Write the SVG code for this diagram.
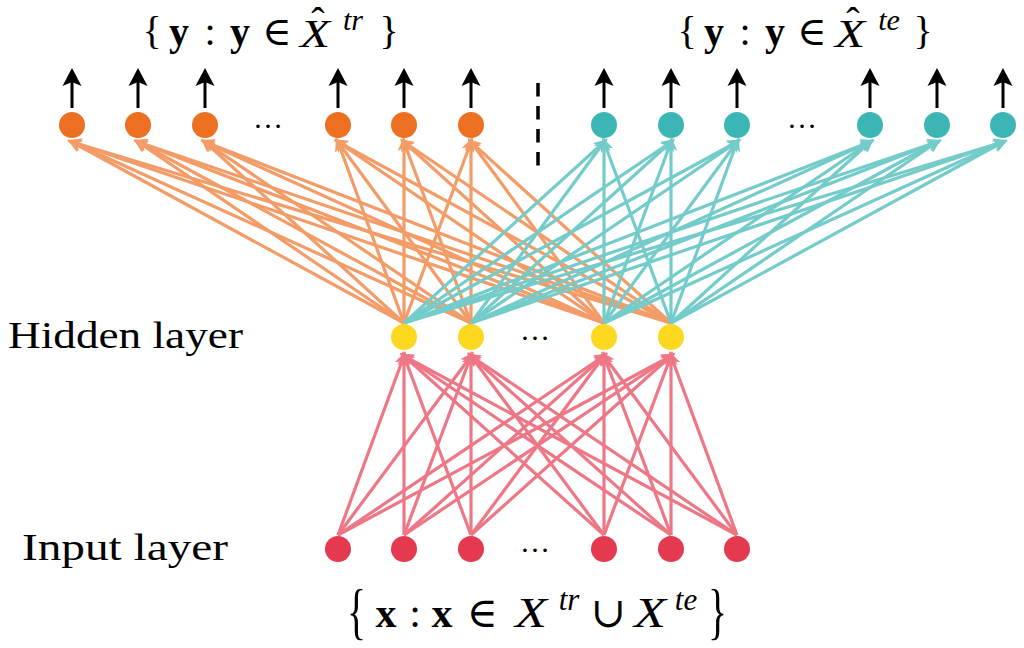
<svg xmlns="http://www.w3.org/2000/svg" width="1024" height="648" viewBox="0 0 1024 648">
<style>
.eo{stroke:#F39C67;stroke-width:3.2;marker-end:url(#ao)}
.et{stroke:#74CCCA;stroke-width:3.2;marker-end:url(#at)}
.er{stroke:#EE7786;stroke-width:3.2;marker-end:url(#ar)}
.eb{stroke:#000;stroke-width:3;marker-end:url(#ab)}
.no{fill:#EC6F22}
.nt{fill:#3BB6B4}
.nh{fill:#FCD920}
.ni{fill:#E5394F}
text{font-family:"Liberation Serif","DejaVu Serif",serif;fill:#000}
.lbl{font-size:37px}
.m{font-size:40px;text-anchor:middle}
.mb{font-size:40px;text-anchor:middle;font-weight:bold}
.mi{font-size:40px;text-anchor:middle;font-style:italic}
.ms{font-size:30px;text-anchor:middle;font-style:italic}
.n{font-size:42px;text-anchor:middle}
.nb{font-size:42px;text-anchor:middle;font-weight:bold}
.ni2{font-size:42px;text-anchor:middle;font-style:italic}
.ns{font-size:31px;text-anchor:middle;font-style:italic}
.dots{font-size:30px;text-anchor:middle}
</style>
<defs>
<marker id="ao" viewBox="0 -7 14 14" refX="9" refY="0" markerWidth="14" markerHeight="14" markerUnits="userSpaceOnUse" orient="auto"><path d="M0,-6.5 L14,0 L0,6.5 L3.5,0 Z" fill="#F39C67"/></marker>
<marker id="at" viewBox="0 -7 14 14" refX="9" refY="0" markerWidth="14" markerHeight="14" markerUnits="userSpaceOnUse" orient="auto"><path d="M0,-6.5 L14,0 L0,6.5 L3.5,0 Z" fill="#74CCCA"/></marker>
<marker id="ar" viewBox="0 -7 14 14" refX="9" refY="0" markerWidth="14" markerHeight="14" markerUnits="userSpaceOnUse" orient="auto"><path d="M0,-6.5 L14,0 L0,6.5 L3.5,0 Z" fill="#EE7786"/></marker>
<marker id="ab" viewBox="0 -10 18 20" refX="11" refY="0" markerWidth="18" markerHeight="20" markerUnits="userSpaceOnUse" orient="auto"><path d="M0,-9.5 L18,0 L0,9.5 L4,0 Z" fill="#000"/></marker>
</defs>
<rect width="1024" height="648" fill="#fff"/>
<g id="connectors">
<g id="edges-input-hidden">
<line class="er" x1="338" y1="535" x2="404" y2="356"/><line class="er" x1="338" y1="535" x2="471" y2="356"/><line class="er" x1="338" y1="535" x2="604" y2="356"/><line class="er" x1="338" y1="535" x2="671" y2="356"/>
<line class="er" x1="404" y1="535" x2="404" y2="356"/><line class="er" x1="404" y1="535" x2="471" y2="356"/><line class="er" x1="404" y1="535" x2="604" y2="356"/><line class="er" x1="404" y1="535" x2="671" y2="356"/>
<line class="er" x1="471" y1="535" x2="404" y2="356"/><line class="er" x1="471" y1="535" x2="471" y2="356"/><line class="er" x1="471" y1="535" x2="604" y2="356"/><line class="er" x1="471" y1="535" x2="671" y2="356"/>
<line class="er" x1="604" y1="535" x2="404" y2="356"/><line class="er" x1="604" y1="535" x2="471" y2="356"/><line class="er" x1="604" y1="535" x2="604" y2="356"/><line class="er" x1="604" y1="535" x2="671" y2="356"/>
<line class="er" x1="671" y1="535" x2="404" y2="356"/><line class="er" x1="671" y1="535" x2="471" y2="356"/><line class="er" x1="671" y1="535" x2="604" y2="356"/><line class="er" x1="671" y1="535" x2="671" y2="356"/>
<line class="er" x1="737" y1="535" x2="404" y2="356"/><line class="er" x1="737" y1="535" x2="471" y2="356"/><line class="er" x1="737" y1="535" x2="604" y2="356"/><line class="er" x1="737" y1="535" x2="671" y2="356"/>
</g>
<g id="edges-hidden-train">
<line class="eo" x1="404" y1="323" x2="72" y2="142"/><line class="eo" x1="404" y1="323" x2="138" y2="142"/><line class="eo" x1="404" y1="323" x2="205" y2="142"/><line class="eo" x1="404" y1="323" x2="338" y2="142"/><line class="eo" x1="404" y1="323" x2="404" y2="142"/><line class="eo" x1="404" y1="323" x2="471" y2="142"/>
<line class="eo" x1="471" y1="323" x2="72" y2="142"/><line class="eo" x1="471" y1="323" x2="138" y2="142"/><line class="eo" x1="471" y1="323" x2="205" y2="142"/><line class="eo" x1="471" y1="323" x2="338" y2="142"/><line class="eo" x1="471" y1="323" x2="404" y2="142"/><line class="eo" x1="471" y1="323" x2="471" y2="142"/>
<line class="eo" x1="604" y1="323" x2="72" y2="142"/><line class="eo" x1="604" y1="323" x2="138" y2="142"/><line class="eo" x1="604" y1="323" x2="205" y2="142"/><line class="eo" x1="604" y1="323" x2="338" y2="142"/><line class="eo" x1="604" y1="323" x2="404" y2="142"/><line class="eo" x1="604" y1="323" x2="471" y2="142"/>
<line class="eo" x1="671" y1="323" x2="72" y2="142"/><line class="eo" x1="671" y1="323" x2="138" y2="142"/><line class="eo" x1="671" y1="323" x2="205" y2="142"/><line class="eo" x1="671" y1="323" x2="338" y2="142"/><line class="eo" x1="671" y1="323" x2="404" y2="142"/><line class="eo" x1="671" y1="323" x2="471" y2="142"/>
</g>
<g id="edges-hidden-test">
<line class="et" x1="404" y1="323" x2="604" y2="142"/><line class="et" x1="404" y1="323" x2="671" y2="142"/><line class="et" x1="404" y1="323" x2="737" y2="142"/><line class="et" x1="404" y1="323" x2="870" y2="142"/><line class="et" x1="404" y1="323" x2="937" y2="142"/><line class="et" x1="404" y1="323" x2="1003" y2="142"/>
<line class="et" x1="471" y1="323" x2="604" y2="142"/><line class="et" x1="471" y1="323" x2="671" y2="142"/><line class="et" x1="471" y1="323" x2="737" y2="142"/><line class="et" x1="471" y1="323" x2="870" y2="142"/><line class="et" x1="471" y1="323" x2="937" y2="142"/><line class="et" x1="471" y1="323" x2="1003" y2="142"/>
<line class="et" x1="604" y1="323" x2="604" y2="142"/><line class="et" x1="604" y1="323" x2="671" y2="142"/><line class="et" x1="604" y1="323" x2="737" y2="142"/><line class="et" x1="604" y1="323" x2="870" y2="142"/><line class="et" x1="604" y1="323" x2="937" y2="142"/><line class="et" x1="604" y1="323" x2="1003" y2="142"/>
<line class="et" x1="671" y1="323" x2="604" y2="142"/><line class="et" x1="671" y1="323" x2="671" y2="142"/><line class="et" x1="671" y1="323" x2="737" y2="142"/><line class="et" x1="671" y1="323" x2="870" y2="142"/><line class="et" x1="671" y1="323" x2="937" y2="142"/><line class="et" x1="671" y1="323" x2="1003" y2="142"/>
</g>
<g id="output-arrows">
<line class="eb" x1="72" y1="108" x2="72" y2="75"/><line class="eb" x1="138" y1="108" x2="138" y2="75"/><line class="eb" x1="205" y1="108" x2="205" y2="75"/><line class="eb" x1="338" y1="108" x2="338" y2="75"/><line class="eb" x1="404" y1="108" x2="404" y2="75"/><line class="eb" x1="471" y1="108" x2="471" y2="75"/>
<line class="eb" x1="604" y1="108" x2="604" y2="75"/><line class="eb" x1="671" y1="108" x2="671" y2="75"/><line class="eb" x1="737" y1="108" x2="737" y2="75"/><line class="eb" x1="870" y1="108" x2="870" y2="75"/><line class="eb" x1="937" y1="108" x2="937" y2="75"/><line class="eb" x1="1003" y1="108" x2="1003" y2="75"/>
</g>
</g>
<line id="separator" x1="538" y1="83" x2="538" y2="168" stroke="#000" stroke-width="3.5" stroke-dasharray="13.5 9.5"/>
<g id="output-train">
<circle class="no" cx="72" cy="125" r="13"/><circle class="no" cx="138" cy="125" r="13"/><circle class="no" cx="205" cy="125" r="13"/>
<text class="dots" x="268" y="128">…</text>
<circle class="no" cx="338" cy="125" r="13"/><circle class="no" cx="404" cy="125" r="13"/><circle class="no" cx="471" cy="125" r="13"/>
</g>
<g id="output-test">
<circle class="nt" cx="604" cy="125" r="13"/><circle class="nt" cx="671" cy="125" r="13"/><circle class="nt" cx="737" cy="125" r="13"/>
<text class="dots" x="802" y="128">…</text>
<circle class="nt" cx="870" cy="125" r="13"/><circle class="nt" cx="937" cy="125" r="13"/><circle class="nt" cx="1003" cy="125" r="13"/>
</g>
<g id="hidden-layer">
<circle class="nh" cx="404" cy="337" r="13"/><circle class="nh" cx="471" cy="337" r="13"/>
<text class="dots" x="535" y="340">…</text>
<circle class="nh" cx="604" cy="337" r="13"/><circle class="nh" cx="671" cy="337" r="13"/>
<text class="lbl" x="8" y="348" textLength="235" lengthAdjust="spacingAndGlyphs">Hidden layer</text>
</g>
<g id="input-layer">
<circle class="ni" cx="338" cy="549" r="13"/><circle class="ni" cx="404" cy="549" r="13"/><circle class="ni" cx="471" cy="549" r="13"/>
<text class="dots" x="535" y="552">…</text>
<circle class="ni" cx="604" cy="549" r="13"/><circle class="ni" cx="671" cy="549" r="13"/><circle class="ni" cx="737" cy="549" r="13"/>
<text class="lbl" x="22" y="560" textLength="206" lengthAdjust="spacingAndGlyphs">Input layer</text>
</g>
<g id="label-train">
<text class="m" x="152" y="44">{</text>
<text class="mb" x="179" y="45">y</text>
<text class="m" x="210" y="45">:</text>
<text class="mb" x="240" y="45">y</text>
<text class="m" x="277" y="45">∈</text>
<text class="mi" x="315" y="47" textLength="30" lengthAdjust="spacingAndGlyphs">X</text>
<text class="m" x="318" y="35">ˆ</text>
<text class="ms" x="353" y="30">tr</text>
<text class="m" x="389" y="44">}</text>
</g>
<g id="label-test">
<text class="m" x="687" y="44">{</text>
<text class="mb" x="714" y="45">y</text>
<text class="m" x="745" y="45">:</text>
<text class="mb" x="775" y="45">y</text>
<text class="m" x="812" y="45">∈</text>
<text class="mi" x="850" y="47" textLength="30" lengthAdjust="spacingAndGlyphs">X</text>
<text class="m" x="853" y="35">ˆ</text>
<text class="ms" x="889" y="30">te</text>
<text class="m" x="923" y="44">}</text>
</g>
<g id="label-input">
<text x="347" y="632" font-size="62" textLength="19" lengthAdjust="spacingAndGlyphs">{</text>
<text class="nb" x="386" y="627">x</text>
<text class="n" x="415" y="627">:</text>
<text class="nb" x="442" y="627">x</text>
<text class="n" x="482" y="627">∈</text>
<text class="ni2" x="531" y="627" textLength="32" lengthAdjust="spacingAndGlyphs">X</text>
<text class="ns" x="569" y="610">tr</text>
<text class="n" x="608" y="627">∪</text>
<text class="ni2" x="650" y="627" textLength="32" lengthAdjust="spacingAndGlyphs">X</text>
<text class="ns" x="686" y="610">te</text>
<text x="708" y="632" font-size="62" textLength="19" lengthAdjust="spacingAndGlyphs">}</text>
</g>
</svg>
